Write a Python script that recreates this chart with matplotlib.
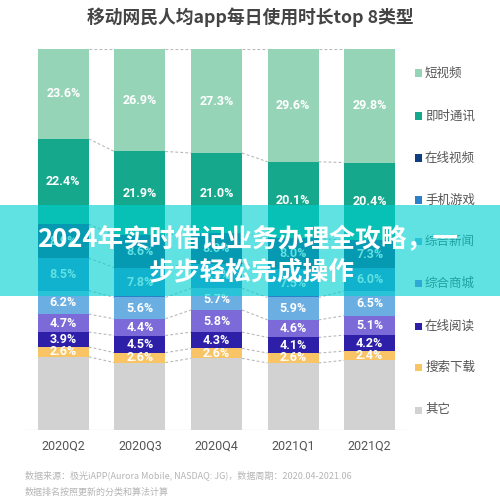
import matplotlib
matplotlib.use("Agg")
import matplotlib.pyplot as plt
from matplotlib.patches import Rectangle

plt.rcParams['font.family'] = ['Noto Sans CJK SC', 'DejaVu Sans']

# data (stack order: bottom -> top)
quarters = ["2020Q2", "2020Q3", "2020Q4", "2021Q1", "2021Q2"]
other = [19.2, 17.7, 18.8, 17.6, 18.3]
search_dl = [2.6, 2.6, 2.6, 2.6, 2.4]
reading = [3.9, 4.5, 4.3, 4.1, 4.2]
shopping = [4.7, 4.4, 5.8, 4.6, 5.1]
news = [6.2, 5.6, 5.7, 5.9, 6.5]
games = [8.5, 7.8, 6.5, 7.5, 6.0]
video = [8.9, 8.6, 8.0, 8.0, 7.3]
im = [22.4, 21.9, 21.0, 20.1, 20.4]
short_video = [23.6, 26.9, 27.3, 29.6, 29.8]

series = [
    ("其它", other, "#d2d2d2", False),
    ("搜索下载", search_dl, "#f8c466", True),
    ("在线阅读", reading, "#2d1fa8", True),
    ("综合商城", shopping, "#7b6ad8", True),
    ("综合新闻", news, "#6aaee2", True),
    ("手机游戏", games, "#2c80c8", True),
    ("在线视频", video, "#0f3f80", True),
    ("即时通讯", im, "#16a88c", True),
    ("短视频", short_video, "#96d4b8", True),
]

W, H = 500, 501
fig = plt.figure(figsize=(W / 100, H / 100), dpi=100)
fig.patch.set_facecolor("white")
ax = fig.add_axes([25 / W, 71 / H, 383 / W, 381 / H])

x = list(range(len(quarters)))
bw = 0.665
bottom = [0.0] * len(quarters)
bounds = []
for name, vals, color, show in series:
    ax.bar(x, vals, bottom=bottom, width=bw, color=color, linewidth=0, zorder=2)
    if show:
        for i, v in enumerate(vals):
            ax.text(x[i], bottom[i] + v / 2, f"{v:.1f}%", ha="center", va="center",
                    color="white", fontsize=9, fontweight="bold",
                    family=["Roboto", "DejaVu Sans"], zorder=3)
    bottom = [b + v for b, v in zip(bottom, vals)]
    bounds.append(list(bottom))

# dashed connectors between neighbouring bars
for cum in bounds:
    for i in range(len(x) - 1):
        ax.plot([x[i] + bw / 2, x[i + 1] - bw / 2], [cum[i], cum[i + 1]],
                ls=(0, (2.5, 2)), color="#b8b8b8", lw=0.8, zorder=1)

ax.axhline(0, color="#e8e8e8", lw=1, zorder=1)
ax.set_xlim(-0.5, 4.5)
ax.set_ylim(0, 100)
for s in ax.spines.values():
    s.set_visible(False)
ax.set_yticks([])
ax.set_xticks(x, quarters)
ax.tick_params(axis="x", length=0, pad=7, labelsize=9, labelcolor="#555555")
for lbl in ax.get_xticklabels():
    lbl.set_family(["Roboto", "DejaVu Sans"])

# title
fig.text(250 / W, 1 - 17 / H, "移动网民人均app每日使用时长top 8类型", ha="center", va="center",
         fontsize=12.8, fontweight="bold", color="#444444")

# legend (top -> bottom)
leg_y = [73, 116, 158, 200, 242, 283, 326, 367, 410]
for (name, vals, color, show), yy in zip(series[::-1], leg_y):
    fig.add_artist(Rectangle((415 / W, 1 - (yy + 3.5) / H), 7 / W, 7 / H,
                             transform=fig.transFigure, color=color, lw=0))
    fig.text(425 / W, 1 - yy / H, name, ha="left", va="center", fontsize=9, color="#555555")

# source notes
fig.text(25 / W, 1 - 475 / H, "数据来源：极光iAPP(Aurora Mobile, NASDAQ: JG)，数据周期：2020.04-2021.06",
         ha="left", va="center", fontsize=6.5, color="#b5b5b5", style="italic")
fig.text(25 / W, 1 - 492 / H, "数据排名按照更新的分类和算法计算",
         ha="left", va="center", fontsize=6.5, color="#b5b5b5", style="italic")

# overlay banner
fig.add_artist(Rectangle((0, 1 - 296 / H), 1, 91 / H, transform=fig.transFigure,
                         color=(0.0, 0.82, 0.82), alpha=0.62, lw=0, zorder=10))
fig.text(37 / W, 1 - 240 / H, "2024年实时借记业务办理全攻略，一", ha="left", va="center",
         fontsize=18.5, fontweight="bold", color="white", zorder=11)
fig.text(149 / W, 1 - 272 / H, "步步轻松完成操作", ha="left", va="center",
         fontsize=18.5, fontweight="bold", color="white", zorder=11)

fig.savefig("out.png", dpi=100)
